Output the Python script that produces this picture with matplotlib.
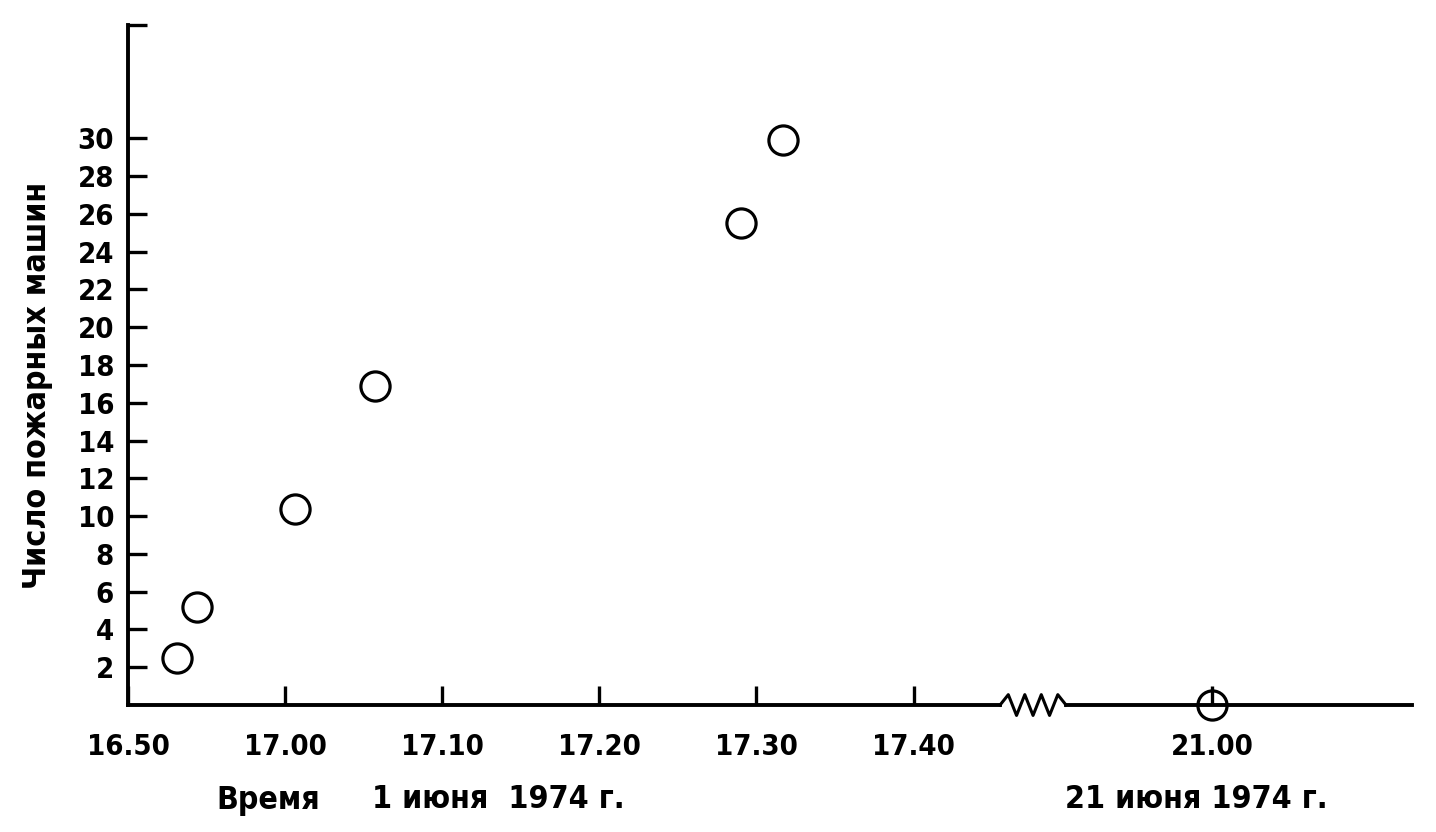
import matplotlib
matplotlib.use('Agg')
import matplotlib.pyplot as plt
from matplotlib import font_manager
import numpy as np

# время в минутах от 16.50; отметка 21.00 стоит за разрывом оси
time_labels = ['16.50', '17.00', '17.10', '17.20', '17.30', '17.40', '21.00']
time_pos = [0, 10, 20, 30, 40, 50, 69]

# число пожарных машин
point_x = [3.1, 4.4, 10.6, 15.7, 39.0, 41.7, 69]
point_y = [2.5, 5.2, 10.4, 16.9, 25.5, 29.9, 0]

y_ticks = [2, 4, 6, 8, 10, 12, 14, 16, 18, 20, 22, 24, 26, 28, 30, 36]
y_labels = ['2', '4', '6', '8', '10', '12', '14', '16', '18', '20',
            '22', '24', '26', '28', '30', '']

break_start, break_end = 55.5, 59.7
x_max, y_max = 81.7, 36


def pick_font():
    # узкий полужирный шрифт, если он есть
    files = [f.fname for f in font_manager.fontManager.ttflist]
    for key in ['DejaVuSansCondensed-Bold.ttf', 'LiberationSansNarrow-Bold',
                'DejaVuSansCondensed.ttf']:
        for f in files:
            if f.endswith(key) or key in f:
                return f
    return None


fname = pick_font()
fs_tick, fs_lab = 21, 23
if fname:
    fp = font_manager.FontProperties(fname=fname, size=fs_tick)
    fl = font_manager.FontProperties(fname=fname, size=fs_lab)
else:
    fp = font_manager.FontProperties(family='DejaVu Sans', size=18)
    fl = font_manager.FontProperties(family='DejaVu Sans', size=19)

fig = plt.figure(figsize=(14.36, 8.32), dpi=100)
ax = fig.add_axes([0.0891, 0.1526, 0.894, 0.8174])

ax.plot(point_x, point_y, 'o', ms=21, mfc='none', mec='black', mew=2.3,
        clip_on=False, zorder=5)

ax.set_xlim(0, x_max)
ax.set_ylim(0, y_max)

for s in ['top', 'right', 'bottom']:
    ax.spines[s].set_visible(False)
ax.spines['left'].set_linewidth(2.8)

# нижняя ось с разрывом (зигзаг)
amp = 0.55
zx = np.linspace(break_start, break_end, 9)
zy = [0, amp, -amp, amp, -amp, amp, -amp, amp, 0]
ax.plot([0, break_start], [0, 0], color='black', lw=2.8, clip_on=False)
ax.plot(zx, zy, color='black', lw=2.2, clip_on=False)
ax.plot([break_end, x_max], [0, 0], color='black', lw=2.8, clip_on=False)

ax.set_xticks(time_pos)
ax.set_xticklabels(time_labels, fontproperties=fp)
ax.set_yticks(y_ticks)
ax.set_yticklabels(y_labels, fontproperties=fp)
ax.tick_params(axis='x', direction='in', length=14, width=2.4, pad=20)
ax.tick_params(axis='y', direction='in', length=14, width=2.4, pad=10)

ax.set_ylabel('Число пожарных машин', fontproperties=fl)
ax.yaxis.set_label_coords(-0.058, 0.47)

ty = 1 - 800 / 832
fig.text(268 / 1436, ty, 'Время', fontproperties=fl, ha='center', va='center')
fig.text(498 / 1436, ty, '1 июня  1974 г.', fontproperties=fl, ha='center', va='center')
fig.text(1196 / 1436, ty, '21 июня 1974 г.', fontproperties=fl, ha='center', va='center')

fig.savefig('out.png', dpi=100)
